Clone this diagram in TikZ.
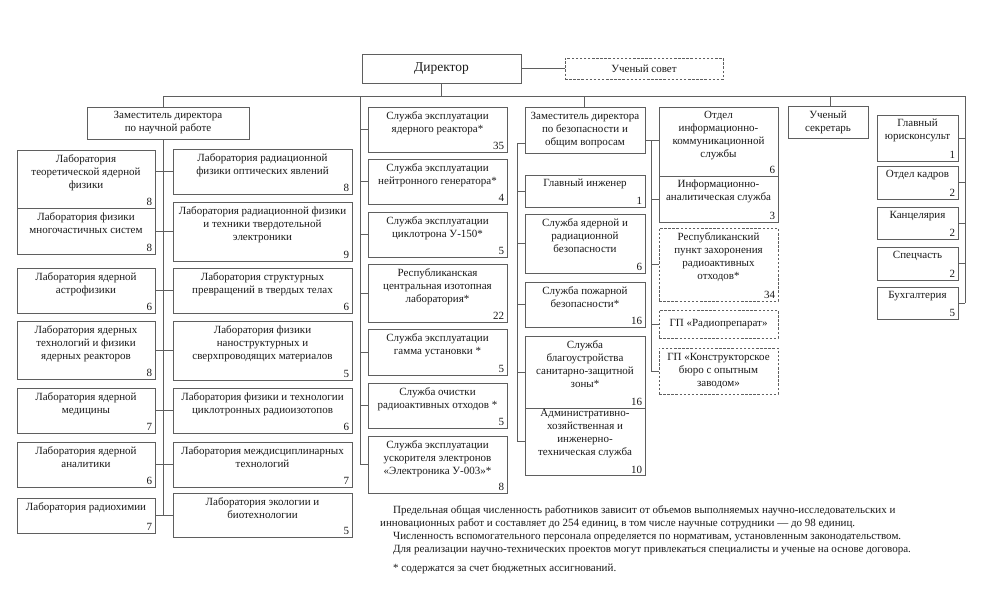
\documentclass[tikz,border=0pt]{standalone}
\usepackage{fontspec}
\setmainfont{Liberation Serif}
\usetikzlibrary{fit}
\definecolor{ln}{RGB}{95,95,95}
\definecolor{tx}{RGB}{25,25,25}
\tikzset{
  ubox/.style={draw=ln, line width=0.8pt, inner sep=0pt, rectangle},
  dbox/.style={dash pattern=on 2.5pt off 1.6pt},
  utxt/.style={align=center, inner sep=0pt, text=tx, font=\fontsize{11}{13}\selectfont},
  unum/.style={anchor=south east, inner xsep=3pt, inner ysep=2.5pt, text=tx, font=\fontsize{11}{12}\selectfont},
  conn/.style={draw=ln, line width=0.8pt},
  notetxt/.style={anchor=base west, inner sep=0pt, text=tx, font=\fontsize{11}{13}\selectfont},
}
% numbered box: [style] name x1 y1 x2 y2 text number
\newcommand\nbox[8][]{%
  \node[ubox,#1,fit={(#3,#4)(#5,#6)}] (#2) {};
  \node[utxt,anchor=north] (#2-t) at ([yshift=-4.5pt]#2.north) {#7};
  \node[unum] (#2-n) at (#2.south east) {#8};
}
% centred box: [style] name x1 y1 x2 y2 text
\newcommand\cbox[7][]{%
  \node[ubox,#1,fit={(#3,#4)(#5,#6)}] (#2) {};
  \node[utxt] (#2-t) at (#2.center) {#7};
}
\begin{document}
\begin{tikzpicture}[x=1pt,y=-1pt]
\useasboundingbox (0,0) rectangle (988,594);

% top level
\cbox{dir}{362}{54}{521}{83}{\fontsize{13.5}{15}\selectfont Директор}
\cbox[dbox]{sov}{565}{58}{723}{79}{Ученый совет}
\cbox{zn}{87}{107}{249}{139}{Заместитель директора\\по научной работе}

% laboratories, left
\nbox{l1}{17}{150}{155}{208}{Лаборатория\\теоретической ядерной\\физики}{8}
\nbox{l2}{17}{208}{155}{254}{Лаборатория физики\\многочастичных систем}{8}
\nbox{l3}{17}{268}{155}{313}{Лаборатория ядерной\\астрофизики}{6}
\nbox{l4}{17}{321}{155}{379}{Лаборатория ядерных\\технологий и физики\\ядерных реакторов}{8}
\nbox{l5}{17}{388}{155}{433}{Лаборатория ядерной\\медицины}{7}
\nbox{l6}{17}{442}{155}{487}{Лаборатория ядерной\\аналитики}{6}
\nbox{l7}{17}{498}{155}{533}{Лаборатория радиохимии}{7}
% laboratories, right
\nbox{r1}{173}{149}{352}{194}{Лаборатория радиационной\\физики оптических явлений}{8}
\nbox{r2}{173}{202}{352}{261}{Лаборатория радиационной физики\\и техники твердотельной\\электроники}{9}
\nbox{r3}{173}{268}{352}{313}{Лаборатория структурных\\превращений в твердых телах}{6}
\nbox{r4}{173}{321}{352}{380}{Лаборатория физики\\наноструктурных и\\сверхпроводящих материалов}{5}
\nbox{r5}{173}{388}{352}{433}{Лаборатория физики и технологии\\циклотронных радиоизотопов}{6}
\nbox{r6}{173}{442}{352}{487}{Лаборатория междисциплинарных\\технологий}{7}
\nbox{r7}{173}{493}{352}{537}{Лаборатория экологии и\\биотехнологии}{5}

% services
\nbox{s1}{368}{107}{507}{152}{Служба эксплуатации\\ядерного реактора*}{35}
\nbox{s2}{368}{159}{507}{204}{Служба эксплуатации\\нейтронного генератора*}{4}
\nbox{s3}{368}{212}{507}{257}{Служба эксплуатации\\циклотрона У-150*}{5}
\nbox{s4}{368}{264}{507}{322}{Республиканская\\центральная изотопная\\лаборатория*}{22}
\nbox{s5}{368}{329}{507}{375}{Служба эксплуатации\\гамма установки *}{5}
\nbox{s6}{368}{383}{507}{428}{Служба очистки\\радиоактивных отходов *}{5}
\nbox{s7}{368}{436}{507}{493}{Служба эксплуатации\\ускорителя электронов\\«Электроника У-003»*}{8}

% safety
\cbox{z2}{525}{107}{645}{153}{Заместитель директора\\по безопасности и\\общим вопросам}
\nbox{g1}{525}{175}{645}{207}{Главный инженер}{1}
\nbox{g2}{525}{214}{645}{273}{Служба ядерной и\\радиационной\\безопасности}{6}
\nbox{g3}{525}{282}{645}{327}{Служба пожарной\\безопасности*}{16}
\nbox{g4}{525}{336}{645}{408}{Служба\\благоустройства\\санитарно-защитной\\зоны*}{16}
\node[ubox,fit={(525,408)(645,475)}] (g5) {};
\node[utxt,anchor=north] (g5-t) at ([yshift=-1.5pt]g5.north) {Административно-\\хозяйственная и\\инженерно-\\техническая служба};
\node[unum,inner ysep=1.5pt] (g5-n) at (g5.south east) {10};

% information
\nbox{i1}{659}{107}{778}{176}{Отдел\\информационно-\\коммуникационной\\службы}{6}
\nbox{i2}{659}{176}{778}{222}{Информационно-\\аналитическая служба}{3}
\nbox[dbox]{i3}{659}{228}{778}{301}{Республиканский\\пункт захоронения\\радиоактивных\\отходов*}{34}
\cbox[dbox]{i4}{659}{310}{778}{338}{ГП «Радиопрепарат»}
\cbox[dbox]{i5}{659}{348}{778}{394}{ГП «Конструкторское\\бюро с опытным\\заводом»}

% right
\cbox{sec}{788}{106}{868}{138}{Ученый\\секретарь}
\nbox{j1}{877}{115}{958}{161}{Главный\\юрисконсульт}{1}
\nbox{j2}{877}{166}{958}{199}{Отдел кадров}{2}
\nbox{j3}{877}{207}{958}{239}{Канцелярия}{2}
\nbox{j4}{877}{247}{958}{280}{Спецчасть}{2}
\nbox{j5}{877}{287}{958}{319}{Бухгалтерия}{5}

% connectors
\coordinate (busL) at (163,96);
\coordinate (busR) at (965,96);
\coordinate (busS) at (360,96);
\coordinate (busZ) at (584,96);
\coordinate (busE) at (830,96);
\coordinate (sfTop) at (517,143);
\coordinate (inTop) at (651,140);
\draw[conn] (dir.east) -- (sov.west);
\draw[conn] (dir.south) -- (dir.south |- busL);
\draw[conn] (busL) -- (busR);
\draw[conn] (busL) -- (busL |- zn.north);
\draw[conn] (busL |- zn.south) -- (busL |- r7.west);
\foreach \a/\b in {l1/r1,l2/r2,l3/r3,l4/r4,l5/r5,l6/r6,l7/r7}
  \draw[conn] (\a.east |- \b.west) -- (\b.west);
\draw[conn] (busS) -- (busS |- s7.west);
\foreach \b in {s1,s2,s3,s4,s5,s6,s7}
  \draw[conn] (busS |- \b.west) -- (\b.west);
\draw[conn] (busZ) -- (busZ |- z2.north);
\draw[conn] (z2.west |- sfTop) -- (sfTop) -- (sfTop |- g5.west);
\foreach \b in {g1,g2,g3,g4,g5}
  \draw[conn] (sfTop |- \b.west) -- (\b.west);
\draw[conn] (z2.east |- inTop) -- (i1.west |- inTop);
\draw[conn] (inTop) -- (inTop |- i5.west);
\foreach \b in {i2,i3,i4,i5}
  \draw[conn] (inTop |- \b.west) -- (\b.west);
\draw[conn] (busE) -- (busE |- sec.north);
\draw[conn] (busR) -- (busR |- j5.east);
\foreach \b in {j1,j2,j3,j4,j5}
  \draw[conn] (\b.east) -- (busR |- \b.east);

% notes
\node[notetxt] (n1) at (393,513) {Предельная общая численность работников зависит от объемов выполняемых научно-исследовательских и};
\node[notetxt] (n2) at (380,526) {инновационных работ и составляет до 254 единиц, в том числе научные сотрудники — до 98 единиц.};
\node[notetxt] (n3) at (393,539) {Численность вспомогательного персонала определяется по нормативам, установленным законодательством.};
\node[notetxt] (n4) at (393,552) {Для реализации научно-технических проектов могут привлекаться специалисты и ученые на основе договора.};
\node[notetxt] (n5) at (393,571) {* содержатся за счет бюджетных ассигнований.};
\end{tikzpicture}
\end{document}
